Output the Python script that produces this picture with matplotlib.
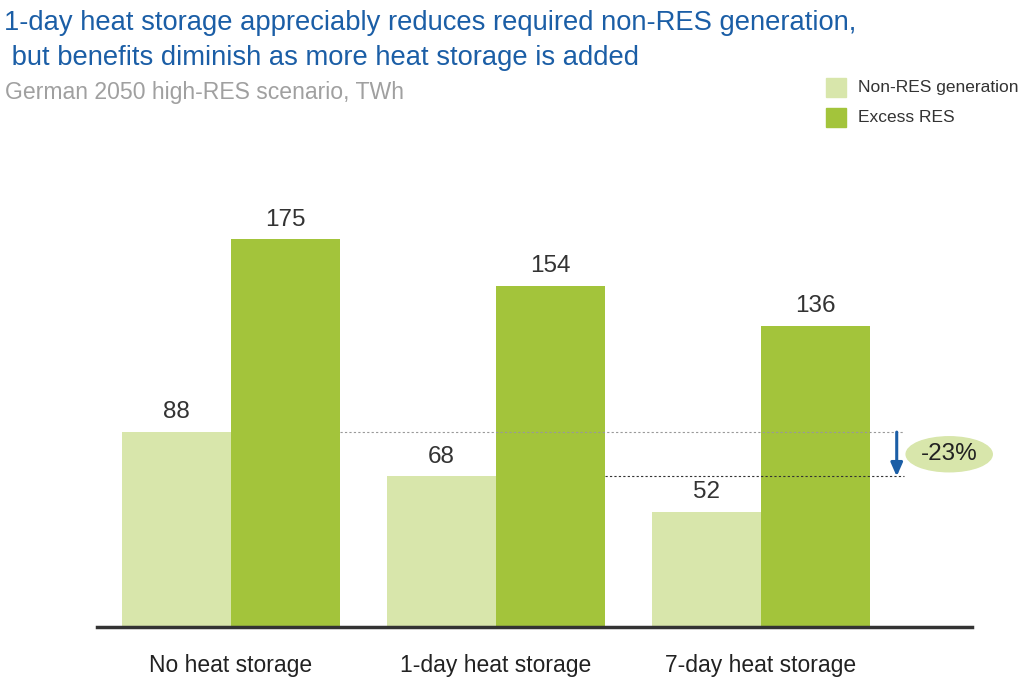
import matplotlib
matplotlib.use("Agg")
import matplotlib.pyplot as plt
from matplotlib.patches import Ellipse, Rectangle
import numpy as np

categories = ["No heat storage", "1-day heat storage", "7-day heat storage"]
non_res = [88, 68, 52]
excess_res = [175, 154, 136]
series_names = ["Non-RES generation", "Excess RES"]
reduction_label = "-23%"

c_light = "#d8e6ab"
c_dark = "#a3c43b"
c_blue = "#1b5ea6"

plt.rcParams['font.family'] = ['Liberation Sans', 'DejaVu Sans']

fig = plt.figure(figsize=(10.24, 6.87), dpi=100)
ax = fig.add_axes([0.0947, 0.0873, 0.8545, 0.6448])

x = np.arange(len(categories))
w = 0.411
off = 0.206
ax.bar(x - off, non_res, width=w, color=c_light, label=series_names[0])
ax.bar(x + off, excess_res, width=w, color=c_dark, label=series_names[1])

for xi, v in zip(x - off, non_res):
    ax.text(xi, v + 4, str(v), ha="center", va="bottom", fontsize=17.5, color="#333333")
for xi, v in zip(x + off, excess_res):
    ax.text(xi, v + 4, str(v), ha="center", va="bottom", fontsize=17.5, color="#333333")

ax.set_xlim(-0.506, 2.796)
ax.set_ylim(0, 200)

# dashed reference lines
xr = 2.54
ax.plot([0 + off + w / 2, xr], [non_res[0], non_res[0]], ls=(0, (2, 2)), color="#999999", lw=0.8)
ax.plot([1 + off + w / 2, xr], [non_res[1], non_res[1]], ls=(0, (2, 2)), color="#333333", lw=0.8)
ax.annotate("", xy=(2.512, non_res[1]), xytext=(2.512, non_res[0]),
            arrowprops=dict(arrowstyle="-|>,head_width=0.35,head_length=0.8", color=c_blue, lw=2.2,
                            shrinkA=0, shrinkB=0))
ell = Ellipse((2.71, (non_res[0] + non_res[1]) / 2), width=0.325, height=15.8, color=c_light, zorder=3,
              clip_on=False)
ax.add_patch(ell)
ax.text(2.71, (non_res[0] + non_res[1]) / 2, reduction_label, ha="center", va="center",
        fontsize=17.5, color="#222222", zorder=4)

ax.set_xticks(x)
ax.set_xticklabels(categories, fontsize=16.5, color="#222222")
ax.tick_params(axis="x", length=0, pad=19.5)
ax.set_yticks([])
for s in ["top", "right", "left"]:
    ax.spines[s].set_visible(False)
ax.spines["bottom"].set_linewidth(2.5)
ax.spines["bottom"].set_color("#333333")

fig.text(0.004, 0.966, "1-day heat storage appreciably reduces required non-RES generation,",
         fontsize=19.7, color=c_blue, ha="left", va="center")
fig.text(0.004, 0.915, " but benefits diminish as more heat storage is added",
         fontsize=19.7, color=c_blue, ha="left", va="center")
fig.text(0.005, 0.866, "German 2050 high-RES scenario, TWh",
         fontsize=16.6, color="#a0a0a0", ha="left", va="center")

# legend
for i, (name, col) in enumerate(zip(series_names, [c_light, c_dark])):
    yc = 1 - (87.5 + 30 * i) / 687
    fig.patches.append(Rectangle((826 / 1024, yc - 9.5 / 687), 20 / 1024, 19 / 687,
                                 transform=fig.transFigure, color=col))
    fig.text(858 / 1024, yc, name, fontsize=12.5, color="#333333", ha="left", va="center")

fig.savefig("out.png", dpi=100)
